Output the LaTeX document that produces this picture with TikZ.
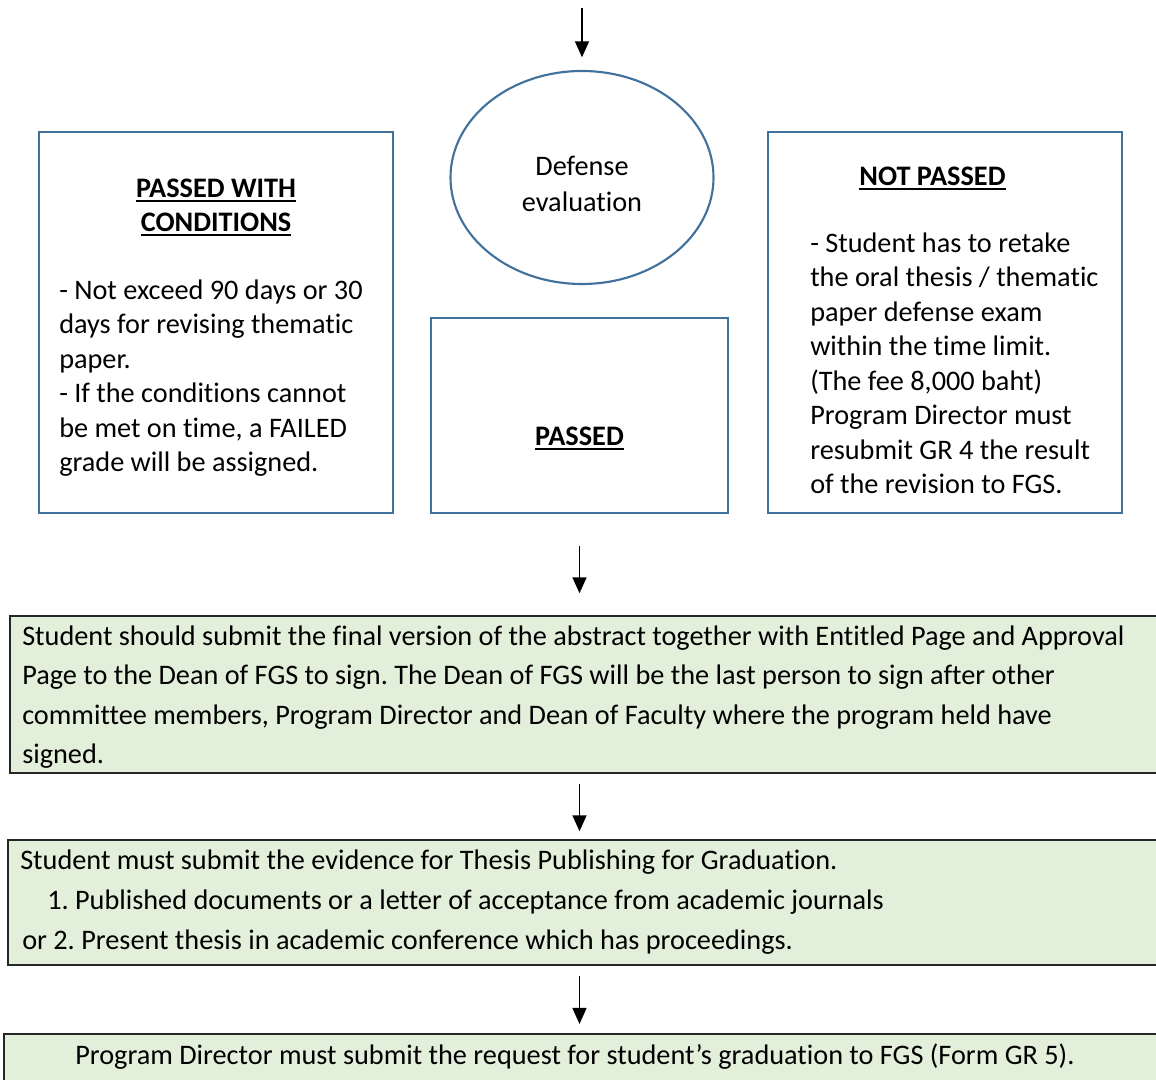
\documentclass[tikz,border=0pt]{standalone}
\usepackage{fontspec}
\setmainfont[Ligatures={NoCommon}]{Carlito}
\usetikzlibrary{arrows.meta,shapes.geometric,fit}
\definecolor{boxblue}{RGB}{65,113,156}
\definecolor{greenfill}{RGB}{226,239,218}
\definecolor{greenline}{RGB}{38,38,38}
\newcommand{\hul}[1]{\setbox0=\hbox{#1}\rlap{\copy0}\raisebox{-3.4pt}{\rule{\wd0}{1.5pt}}}
\frenchspacing
\begin{document}
\begin{tikzpicture}[x=0.75pt,y=-0.75pt,
  bluebox/.style={draw=boxblue,line width=1.6pt,rectangle,inner sep=0pt},
  greenbox/.style={draw=greenline,fill=greenfill,line width=1.1pt,rectangle,inner sep=0pt},
  txt/.style={anchor=base west,inner sep=0pt,yshift=-1.8pt,font=\fontsize{21.2}{25}\selectfont},
  ctxt/.style={anchor=base,inner sep=0pt,yshift=-1.8pt,font=\fontsize{21.2}{25}\selectfont},
  hd/.style={anchor=base,inner sep=0pt,yshift=-1.8pt,font=\fontsize{21.2}{25}\selectfont\bfseries},
  flow/.style={line width=1.3pt,-{Triangle[width=10.5pt,length=12pt]}}]
\useasboundingbox (0,0) rectangle (1156,1080);
\clip (0,0) rectangle (1156,1080);
% boxes
\node[bluebox,fit={(39,132) (393,513)}] (cond) {};
\node[bluebox,fit={(431,318) (728,513)}] (passed) {};
\node[bluebox,fit={(768,132) (1122,513)}] (notp) {};
\node[draw=boxblue,line width=1.6pt,ellipse,inner sep=0pt,minimum width=197.25pt,minimum height=159.75pt] (eval) at (582,177.5) {};
\node[greenbox,fit={(10,616) (1185,773)}] (g1) {};
\node[greenbox,fit={(8,840) (1185,965)}] (g2) {};
\node[greenbox,fit={(4,1034) (1185,1110)}] (g3) {};
% ellipse text
\node[ctxt] (e1) at (582,173) {Defense};
\node[ctxt] (e2) at (582,209) {evaluation};
% left box
\node[hd] (c1) at (216,195) {\hul{PASSED WITH}};
\node[hd] (c2) at (216,229) {\hul{CONDITIONS}};
\node[txt] (c3) at (59,297) {- Not exceed 90 days or 30};
\node[txt] (c4) at (59,331.5) {days for revising thematic};
\node[txt] (c5) at (59,366) {paper.};
\node[txt] (c6) at (59,400.5) {- If the conditions cannot};
\node[txt] (c7) at (59,435) {be met on time, a FAILED};
\node[txt] (c8) at (59,469.5) {grade will be assigned.};
% middle
\node[hd] (p1) at (579.5,443) {\hul{PASSED}};
% right box
\node[hd] (n0) at (932.5,183) {\hul{NOT PASSED}};
\node[txt] (n1) at (810,250) {- Student has to retake};
\node[txt] (n2) at (810,284.5) {the oral thesis / thematic};
\node[txt] (n3) at (810,319) {paper defense exam};
\node[txt] (n4) at (810,353.5) {within the time limit.};
\node[txt] (n5) at (810,388) {(The fee 8,000 baht)};
\node[txt] (n6) at (810,422.5) {Program Director must};
\node[txt] (n7) at (810,457) {resubmit GR 4 the result};
\node[txt] (n8) at (810,491.5) {of the revision to FGS.};
% green 1
\node[txt] (t1) at (22,643) {Student should submit the final version of the abstract together with Entitled Page and Approval};
\node[txt] (t2) at (22,682.5) {Page to the Dean of FGS to sign. The Dean of FGS will be the last person to sign after other};
\node[txt] (t3) at (22,722) {committee members, Program Director and Dean of Faculty where the program held have};
\node[txt] (t4) at (22,761.5) {signed.};
% green 2
\node[txt] (u1) at (20,867) {Student must submit the evidence for Thesis Publishing for Graduation.};
\node[txt] (u2) at (47,907) {1. Published documents or a letter of acceptance from academic journals};
\node[txt] (u3) at (22,947) {or 2. Present thesis in academic conference which has proceedings.};
% green 3
\node[txt] (v1) at (75,1062) {Program Director must submit the request for student’s graduation to FGS (Form GR 5).};
% arrows
\coordinate (start) at (582,8);
\draw[flow,shorten >=9.5pt] (start) -- (eval.north);
\draw[flow,shorten <=24pt,shorten >=16.5pt] (passed.south) -- (g1.north -| passed.south);
\draw[flow,shorten <=7.5pt,shorten >=6pt] (g1.south -| passed.south) -- (g2.north -| passed.south);
\draw[flow,shorten <=8pt,shorten >=7pt] (g2.south -| passed.south) -- (g3.north -| passed.south);
\end{tikzpicture}
\end{document}
